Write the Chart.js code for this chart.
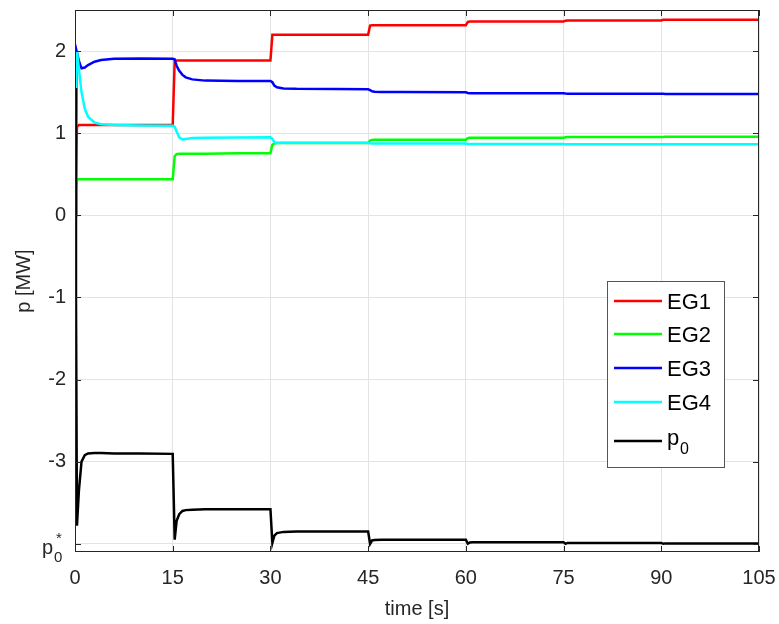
<!DOCTYPE html>
<html>
<head>
<meta charset="utf-8">
<script src="https://cdn.jsdelivr.net/npm/chart.js@4.4.1/dist/chart.umd.min.js"></script>
<style>
  html, body { margin: 0; padding: 0; background: #ffffff; }
  #wrap { width: 779px; height: 624px; position: relative; }
</style>
</head>
<body>
<div id="wrap"><canvas id="chartPotencia"></canvas></div>
<script>
// sample times [s]
const tiempo = [0, 0.15, 0.3, 0.6, 1, 1.5, 2, 3, 4, 6,
    10, 15, 15.3, 15.6, 16, 16.5, 17, 18, 20, 25,
    30, 30.3, 30.6, 31, 32, 34, 40, 45, 45.3, 45.6,
    46, 47, 50, 60, 60.3, 60.6, 61, 62, 65, 75,
    75.3, 75.6, 76, 78, 90, 90.3, 90.6, 91, 93, 105];

// power of each generator [MW]
const eg1 = [0, 0.5, 1.08, 1.1, 1.1, 1.1, 1.1, 1.1, 1.1, 1.1,
    1.1, 1.1, 1.88, 1.885, 1.885, 1.885, 1.885, 1.885, 1.885, 1.885,
    1.885, 2.2, 2.2, 2.2, 2.2, 2.2, 2.2, 2.2, 2.31, 2.315,
    2.315, 2.315, 2.315, 2.315, 2.355, 2.36, 2.36, 2.36, 2.36, 2.36,
    2.37, 2.372, 2.372, 2.372, 2.372, 2.38, 2.38, 2.38, 2.38, 2.38];
const eg2 = [0, 0.3, 0.44, 0.44, 0.44, 0.44, 0.44, 0.44, 0.44, 0.44,
    0.44, 0.44, 0.72, 0.745, 0.75, 0.75, 0.75, 0.75, 0.75, 0.755,
    0.755, 0.86, 0.875, 0.88, 0.88, 0.88, 0.88, 0.88, 0.91, 0.918,
    0.92, 0.92, 0.92, 0.92, 0.94, 0.945, 0.945, 0.945, 0.945, 0.945,
    0.95, 0.952, 0.952, 0.952, 0.952, 0.955, 0.956, 0.956, 0.956, 0.956];
const eg3 = [0, 1.0, 1.98, 1.88, 1.79, 1.8, 1.83, 1.87, 1.89, 1.905,
    1.91, 1.905, 1.9, 1.82, 1.76, 1.71, 1.68, 1.655, 1.64, 1.635,
    1.635, 1.62, 1.58, 1.56, 1.545, 1.54, 1.537, 1.535, 1.525, 1.51,
    1.505, 1.5, 1.5, 1.498, 1.49, 1.487, 1.486, 1.486, 1.486, 1.486,
    1.482, 1.48, 1.48, 1.48, 1.48, 1.479, 1.478, 1.478, 1.478, 1.478];
const eg4 = [0, 1.2, 2.0, 1.78, 1.5, 1.3, 1.2, 1.13, 1.11, 1.1,
    1.095, 1.09, 1.08, 1.02, 0.95, 0.925, 0.93, 0.94, 0.945, 0.948,
    0.95, 0.93, 0.89, 0.88, 0.885, 0.885, 0.885, 0.885, 0.877, 0.875,
    0.875, 0.875, 0.875, 0.875, 0.869, 0.868, 0.868, 0.868, 0.868, 0.868,
    0.866, 0.866, 0.866, 0.866, 0.866, 0.865, 0.865, 0.865, 0.865, 0.865];
const p0 = [1.55, -1.0, -3.78, -3.35, -3.0, -2.92, -2.9, -2.895, -2.895, -2.9,
    -2.9, -2.905, -3.95, -3.72, -3.64, -3.6, -3.59, -3.585, -3.58, -3.58,
    -3.58, -3.99, -3.9, -3.87, -3.855, -3.85, -3.85, -3.85, -4.0, -3.96,
    -3.955, -3.95, -3.95, -3.95, -4.0, -3.985, -3.98, -3.98, -3.98, -3.98,
    -4.0, -3.99, -3.99, -3.99, -3.99, -4.0, -3.995, -3.995, -3.995, -3.995];

const ticksX = [0, 15, 30, 45, 60, 75, 90, 105];
const ticksY = [-4, -3, -2, -1, 0, 1, 2];
const nombres = ["EG1", "EG2", "EG3", "EG4", "p0"];
const colores = ["#ff0000", "#00ff00", "#0000ff", "#00ffff", "#000000"];

const series = [eg1, eg2, eg3, eg4, p0];
const ejeColor = "#262626";
const fuente = "'Liberation Sans', Arial, sans-serif";

// box, inward ticks, p0* label and legend (MATLAB look)
const marcoPlugin = {
    id: "marco",
    afterDraw(chart) {
        const ctx = chart.ctx;
        const a = chart.chartArea;
        const sx = chart.scales.x;
        const sy = chart.scales.y;
        ctx.save();
        ctx.strokeStyle = ejeColor;
        ctx.lineWidth = 1;
        ctx.strokeRect(a.left + 0.5, a.top + 0.5, a.right - a.left - 1, a.bottom - a.top - 1);
        ctx.beginPath();
        ticksX.forEach((v) => {
            const x = Math.round(sx.getPixelForValue(v)) + 0.5;
            ctx.moveTo(x, a.bottom); ctx.lineTo(x, a.bottom - 6);
            ctx.moveTo(x, a.top); ctx.lineTo(x, a.top + 6);
        });
        ticksY.forEach((v) => {
            const y = Math.round(sy.getPixelForValue(v)) + 0.5;
            ctx.moveTo(a.left, y); ctx.lineTo(a.left + 6, y);
            ctx.moveTo(a.right, y); ctx.lineTo(a.right - 6, y);
        });
        ctx.stroke();

        // p0* tick label
        const yp = sy.getPixelForValue(-4);
        ctx.fillStyle = ejeColor;
        ctx.textBaseline = "alphabetic";
        ctx.textAlign = "left";
        ctx.font = "20px " + fuente;
        ctx.fillText("p", 42, yp + 10);
        ctx.font = "15px " + fuente;
        ctx.fillText("0", 54, yp + 18);
        ctx.fillText("*", 56, yp - 1);

        // legend
        const lx = 607, ly = 281, lw = 117, lh = 186;
        ctx.fillStyle = "#ffffff";
        ctx.fillRect(lx, ly, lw, lh);
        ctx.strokeStyle = "#555555";
        ctx.strokeRect(lx + 0.5, ly + 0.5, lw, lh);
        const filas = [301, 334, 368, 402, 441];
        nombres.forEach((n, i) => {
            ctx.strokeStyle = colores[i];
            ctx.lineWidth = 2.5;
            ctx.beginPath();
            ctx.moveTo(614, filas[i]);
            ctx.lineTo(662, filas[i]);
            ctx.stroke();
            ctx.fillStyle = "#000000";
            ctx.textBaseline = "middle";
            if (n === "p0") {
                ctx.font = "22px " + fuente;
                ctx.fillText("p", 667, filas[i] - 2);
                ctx.font = "16px " + fuente;
                ctx.fillText("0", 680, filas[i] + 9);
            } else {
                ctx.font = "22px " + fuente;
                ctx.fillText(n, 667, filas[i] + 2);
            }
        });
        ctx.restore();
    },
};

const configPotencia = {
    type: "line",
    data: {
        datasets: series.map((s, i) => ({
            label: nombres[i],
            data: tiempo.map((t, k) => ({ x: t, y: s[k] })),
            borderColor: colores[i],
            borderWidth: 2.5,
            pointRadius: 0,
            tension: 0,
            fill: false,
            order: series.length - i,
        })),
    },
    options: {
        responsive: true,
        maintainAspectRatio: false,
        animation: false,
        layout: { padding: { top: 10, right: 20, left: 0, bottom: 0 } },
        plugins: { legend: { display: false }, tooltip: { enabled: false } },
        scales: {
            x: {
                type: "linear",
                min: 0,
                max: 105,
                afterBuildTicks: (s) => { s.ticks = ticksX.map((v) => ({ value: v })); },
                afterFit: (s) => { s.height = 72; s.paddingLeft = 0; s.paddingRight = 0; },
                ticks: { color: ejeColor, font: { family: fuente, size: 20 }, padding: 14, maxRotation: 0 },
                grid: { color: "#e3e3e3", drawTicks: false },
                border: { display: false },
                title: { display: true, text: "time [s]", color: ejeColor, font: { family: fuente, size: 20 }, padding: { top: 0, bottom: 3 } },
            },
            y: {
                min: -4.1,
                max: 2.5,
                afterBuildTicks: (s) => { s.ticks = ticksY.map((v) => ({ value: v })); },
                afterFit: (s) => { s.width = 75; s.paddingTop = 0; s.paddingBottom = 0; },
                ticks: {
                    color: ejeColor,
                    font: { family: fuente, size: 20 },
                    padding: 9,
                    callback: (v) => (v === -4 ? "" : String(v)),
                },
                grid: { color: "#e3e3e3", drawTicks: false },
                border: { display: false },
                title: { display: true, text: "p [MW]", color: ejeColor, font: { family: fuente, size: 20 }, padding: { top: 12, bottom: 0 } },
            },
        },
    },
    plugins: [marcoPlugin],
};

new Chart(document.getElementById("chartPotencia"), configPotencia);
</script>
</body>
</html>
